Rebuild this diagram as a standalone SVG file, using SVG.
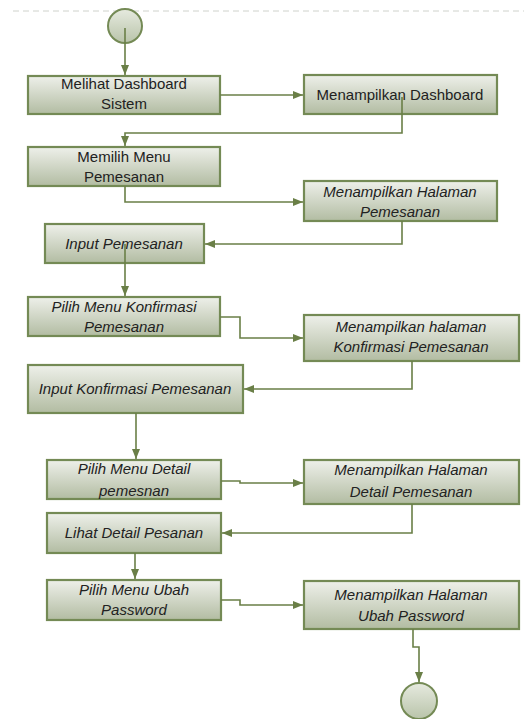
<svg xmlns="http://www.w3.org/2000/svg" width="524" height="719" viewBox="0 0 524 719">
<defs>
<linearGradient id="g" x1="0" y1="0" x2="0" y2="1">
<stop offset="0" stop-color="#eef0ea"/>
<stop offset="1" stop-color="#b2bca2"/>
</linearGradient>
<linearGradient id="gc" x1="0" y1="0" x2="0" y2="1">
<stop offset="0" stop-color="#e6eadf"/>
<stop offset="1" stop-color="#b9c4aa"/>
</linearGradient>
<marker id="ah" markerWidth="10" markerHeight="8" refX="10" refY="4" orient="auto" markerUnits="userSpaceOnUse">
<path d="M0,0 L10,4 L0,8 Z" fill="#6a7f47"/>
</marker>
<style>
.n{fill:url(#g);stroke:#748a55;stroke-width:2.2}
.c{fill:url(#gc);stroke:#748a55;stroke-width:2}
.t{font-family:"Liberation Sans",Arial,sans-serif;font-size:15px;fill:#222;text-anchor:middle}
.i{font-style:italic}
.e{fill:none;stroke:#6a7f47;stroke-width:1.6}
</style>
</defs>
<rect width="524" height="719" fill="#fff"/>
<line x1="13" y1="11" x2="524" y2="11" stroke="#cfd2cc" stroke-width="1" stroke-dasharray="6,4"/>
<g id="start"><circle class="c" cx="125" cy="26" r="17"/></g>
<g id="n1"><rect class="n" x="28" y="76" width="192" height="38"/><text class="t" x="124" y="89">Melihat Dashboard</text><text class="t" x="124" y="109">Sistem</text></g>
<g id="n2"><rect class="n" x="304" y="75" width="193" height="39"/><text class="t" x="400" y="100">Menampilkan Dashboard</text></g>
<g id="n3"><rect class="n" x="28" y="147" width="192" height="39"/><text class="t" x="124" y="162">Memilih Menu</text><text class="t" x="124" y="182">Pemesanan</text></g>
<g id="n4"><rect class="n" x="304" y="181" width="193" height="40"/><text class="t i" x="400" y="197">Menampilkan Halaman</text><text class="t i" x="400" y="217">Pemesanan</text></g>
<g id="n5"><rect class="n" x="45" y="224" width="159" height="39"/><text class="t i" x="124" y="249">Input Pemesanan</text></g>
<g id="n6"><rect class="n" x="28" y="297" width="192" height="39"/><text class="t i" x="124" y="312">Pilih Menu Konfirmasi</text><text class="t i" x="124" y="332">Pemesanan</text></g>
<g id="n7"><rect class="n" x="304" y="315" width="215" height="46"/><text class="t i" x="411" y="332">Menampilkan halaman</text><text class="t i" x="411" y="352">Konfirmasi Pemesanan</text></g>
<g id="n8"><rect class="n" x="28" y="365" width="215" height="48"/><text class="t i" x="135" y="394">Input Konfirmasi Pemesanan</text></g>
<g id="n9"><rect class="n" x="47" y="460" width="174" height="39"/><text class="t i" x="134" y="474">Pilih Menu Detail</text><text class="t i" x="134" y="496">pemesnan</text></g>
<g id="n10"><rect class="n" x="304" y="460" width="215" height="44"/><text class="t i" x="411" y="475">Menampilkan Halaman</text><text class="t i" x="411" y="497">Detail Pemesanan</text></g>
<g id="n11"><rect class="n" x="47" y="513" width="174" height="40"/><text class="t i" x="134" y="538">Lihat Detail Pesanan</text></g>
<g id="n12"><rect class="n" x="47" y="580" width="174" height="40"/><text class="t i" x="134" y="595">Pilih Menu Ubah</text><text class="t i" x="134" y="615">Password</text></g>
<g id="n13"><rect class="n" x="304" y="581" width="215" height="48"/><text class="t i" x="411" y="600">Menampilkan Halaman</text><text class="t i" x="411" y="621">Ubah Password</text></g>
<g id="end"><circle class="c" cx="419" cy="701" r="18"/></g>
<g id="connectors">
<path class="e" marker-end="url(#ah)" d="M125,28 V75"/>
<path class="e" marker-end="url(#ah)" d="M220,95 H303"/>
<path class="e" marker-end="url(#ah)" d="M402,97 V133 H125 V146"/>
<path class="e" marker-end="url(#ah)" d="M125,186 V202 H303"/>
<path class="e" marker-end="url(#ah)" d="M402,221 V244 H205"/>
<path class="e" marker-end="url(#ah)" d="M125,244 V296"/>
<path class="e" marker-end="url(#ah)" d="M220,317 H240 V338 H303"/>
<path class="e" marker-end="url(#ah)" d="M412,361 V389 H244"/>
<path class="e" marker-end="url(#ah)" d="M136,413 V459"/>
<path class="e" marker-end="url(#ah)" d="M221,481 H240 V483 H303"/>
<path class="e" marker-end="url(#ah)" d="M412,504 V533 H222"/>
<path class="e" marker-end="url(#ah)" d="M135,553 V579"/>
<path class="e" marker-end="url(#ah)" d="M221,600 H240 V605 H303"/>
<path class="e" marker-end="url(#ah)" d="M413,629 V647 H419 V682"/>
</g>
</svg>
